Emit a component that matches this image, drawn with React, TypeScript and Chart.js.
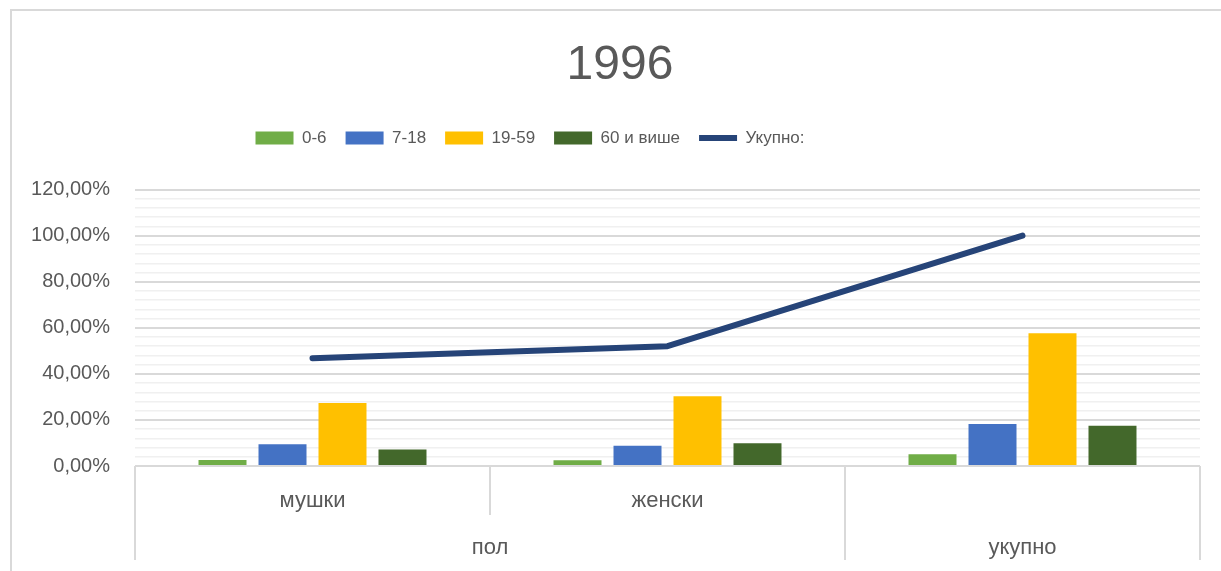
import React, { useEffect, useRef } from 'react';
import { Chart, registerables } from 'chart.js';

Chart.register(...registerables);

const chartTitle = '1996';
const level1Labels = ['мушки', 'женски', ''];
const level2Labels = ['пол', 'пол', 'укупно'];
const seriesNames = ['0-6', '7-18', '19-59', '60 и више'];
const age0to6 = [2.6, 2.5, 5.1];
const age7to18 = [9.4, 8.8, 18.2];
const age19to59 = [27.3, 30.3, 57.6];
const age60plus = [7.2, 9.9, 17.5];
const totalName = 'Укупно:';
const totals = [46.8, 52.0, 100];
const yMin = 0;
const yMax = 120;
const yMajorStep = 20;
const yMinorStep = 4;

const seriesColors = ['#70AD47', '#4472C4', '#FFC000', '#43682B'];
const lineColor = '#264478';
const textColor = '#595959';
const FONT = "'Liberation Sans', Arial, sans-serif";

const fmtPct = (v: number) => v.toFixed(2).replace('.', ',') + '%';

const backgroundPlugin = {
  id: 'bgBorder',
  beforeDraw(chart: any) {
    const { ctx, width, height } = chart;
    ctx.save();
    ctx.fillStyle = '#ffffff';
    ctx.fillRect(0, 0, width, height);
    ctx.strokeStyle = '#d9d9d9';
    ctx.lineWidth = 2;
    ctx.beginPath();
    ctx.moveTo(11, height + 5);
    ctx.lineTo(11, 10);
    ctx.lineTo(width + 5, 10);
    ctx.stroke();
    ctx.restore();
  },
};

const headerPlacement = {
  id: 'headerPlacement',
  beforeInit(chart: any) {
    const legend = chart.legend;
    if (!legend) return;
    const orig = legend.fit;
    legend.fit = function fit(this: any) {
      orig.call(this);
      this.height += 33;
    };
  },
  afterLayout(chart: any) {
    // Excel's chart box starts at x=10; centre title and legend like Excel does
    const title = chart.titleBlock;
    if (title) {
      title.left = 40;
      title.right = 1200;
    }
    const legend = chart.legend;
    if (legend) {
      legend.left = 40;
      legend.right = 1020;
    }
  },
};

const multiLevelAxis = {
  id: 'multiLevelAxis',
  afterDraw(chart: any) {
    const { ctx, chartArea } = chart;
    const x = chart.scales.x;
    const n = level1Labels.length;
    const top = chartArea.bottom;
    const row1Bottom = top + 49;
    const row2Bottom = top + 94;
    const bounds: number[] = [];
    for (let i = 0; i <= n; i++) {
      if (i === 0) bounds.push(x.left);
      else if (i === n) bounds.push(x.right);
      else bounds.push((x.getPixelForValue(i - 1) + x.getPixelForValue(i)) / 2);
    }
    ctx.save();
    ctx.strokeStyle = '#d9d9d9';
    ctx.lineWidth = 2;
    for (let i = 0; i <= n; i++) {
      const sameGroup = i > 0 && i < n && level2Labels[i - 1] === level2Labels[i];
      ctx.beginPath();
      ctx.moveTo(bounds[i], top);
      ctx.lineTo(bounds[i], sameGroup ? row1Bottom : row2Bottom);
      ctx.stroke();
    }
    ctx.fillStyle = textColor;
    ctx.font = `22px ${FONT}`;
    ctx.textAlign = 'center';
    ctx.textBaseline = 'middle';
    for (let i = 0; i < n; i++) {
      if (level1Labels[i]) {
        ctx.fillText(level1Labels[i], x.getPixelForValue(i), top + 35);
      }
    }
    let start = 0;
    for (let i = 1; i <= n; i++) {
      if (i === n || level2Labels[i] !== level2Labels[start]) {
        const cx = (bounds[start] + bounds[i]) / 2;
        ctx.fillText(level2Labels[start], cx, top + 82);
        start = i;
      }
    }
    ctx.restore();
  },
};

export default function App() {
  const canvasRef = useRef<HTMLCanvasElement | null>(null);

  useEffect(() => {
    if (!canvasRef.current) return;
    Chart.defaults.font.family = FONT;
    Chart.defaults.color = textColor;
    const barSeries = [age0to6, age7to18, age19to59, age60plus];
    const datasets: any[] = barSeries.map((data, i) => ({
      type: 'bar',
      label: seriesNames[i],
      data,
      backgroundColor: seriesColors[i],
      borderWidth: 0,
      pointStyle: 'rect',
      order: 2,
    }));
    datasets.push({
      type: 'line',
      label: totalName,
      data: totals,
      borderColor: lineColor,
      backgroundColor: lineColor,
      borderWidth: 6,
      borderCapStyle: 'round',
      borderJoinStyle: 'round',
      pointRadius: 0,
      pointHoverRadius: 0,
      pointStyle: 'line',
      tension: 0,
      order: 1,
    });

    const chart = new Chart(canvasRef.current, {
      type: 'bar',
      data: { labels: level1Labels.map((l, i) => l || level2Labels[i]), datasets },
      options: {
        responsive: false,
        animation: false,
        layout: { padding: { left: 0, right: 21, top: 0, bottom: 105 } },
        datasets: {
          bar: { categoryPercentage: 0.676, barPercentage: 0.8 },
        },
        plugins: {
          title: {
            display: true,
            text: chartTitle,
            color: textColor,
            font: { size: 48, weight: 'normal', family: FONT },
            padding: { top: 37, bottom: 16 },
          },
          legend: {
            display: true,
            position: 'top',
            labels: {
              usePointStyle: true,
              pointStyleWidth: 38,
              boxHeight: 13,
              padding: 19,
              color: textColor,
              font: { size: 17, family: FONT },
              sort: (a: any, b: any) => a.datasetIndex - b.datasetIndex,
            },
          },
          tooltip: { enabled: false },
        },
        scales: {
          x: {
            display: false,
            grid: { display: false },
          },
          y: {
            min: yMin,
            max: yMax,
            afterFit(scale: any) {
              scale.width = 135;
            },
            border: { display: false },
            grid: {
              drawTicks: false,
              color: (c: any) => (c.tick && c.tick.value % yMajorStep === 0 ? '#d9d9d9' : '#f0f0f0'),
              lineWidth: (c: any) => (c.tick && c.tick.value % yMajorStep === 0 ? 2 : 1.5),
            },
            ticks: {
              stepSize: yMinorStep,
              autoSkip: false,
              padding: 25,
              color: textColor,
              font: { size: 20, family: FONT },
              callback: (v: any) => (Number(v) % yMajorStep === 0 ? fmtPct(Number(v)) : ''),
            },
          },
        },
      },
      plugins: [backgroundPlugin, headerPlacement, multiLevelAxis],
    } as any);
    return () => chart.destroy();
  }, []);

  return (
    <div style={{ position: 'absolute', left: 0, top: 0, width: 1221, height: 571, background: '#fff' }}>
      <canvas ref={canvasRef} width={1221} height={571} style={{ display: 'block' }} />
    </div>
  );
}
